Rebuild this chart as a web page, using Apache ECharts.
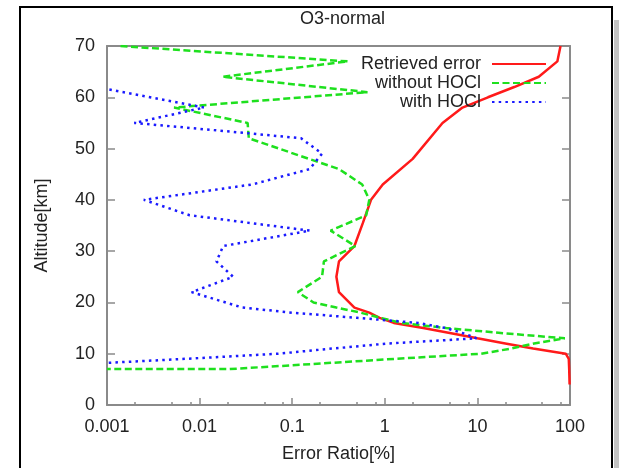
<!DOCTYPE html>
<html><head><meta charset="utf-8">
<script src="https://cdn.jsdelivr.net/npm/echarts@6/dist/echarts.min.js"></script>
<style>html,body{margin:0;padding:0;background:#fff}#c{width:619px;height:468px}</style>
</head><body><div id="c"></div>
<script>
// ---- data ----
const titleText = 'O3-normal';
const xAxisName = 'Error Ratio[%]';
const yAxisName = 'Altitude[km]';
const seriesNames = ['Retrieved error', 'without HOCl', 'with HOCl'];

const retrievedAlt = [70, 67, 64, 62, 60, 58, 55, 48, 43, 40, 35.5, 31, 28, 25, 22, 19, 18, 17, 16, 15, 14, 13, 12, 11, 10, 9, 7, 4];
const retrievedErr = [79, 73, 46, 25, 13, 6.9, 4.2, 2.0, 0.95, 0.71, 0.58, 0.47, 0.32, 0.30, 0.32, 0.47, 0.68, 0.88, 1.25, 2.6, 5.2, 10, 20, 40, 90, 97, 98, 99];

const withoutAlt = [70, 67, 64, 61, 58, 55, 52, 46, 43, 40, 37, 34, 31, 28, 25, 22, 20, 19, 18, 17, 16, 15, 14, 13, 12, 11, 10, 9, 8, 7, 7];
const withoutErr = [0.0014, 0.40, 0.0177, 0.65, 0.0053, 0.033, 0.034, 0.32, 0.57, 0.68, 0.63, 0.26, 0.48, 0.22, 0.21, 0.115, 0.17, 0.3, 0.55, 0.9, 1.5, 4.6, 19, 88, 41, 23, 11, 1.3, 0.17, 0.021, 0.001];

const withAlt = [61.5, 58, 55, 53, 52, 49, 46, 43, 40, 37, 34, 31, 28, 25, 22, 19, 18, 17, 16, 15, 14, 13, 12, 11, 10, 9, 8];
const withErr = [0.00106, 0.0112, 0.00197, 0.033, 0.125, 0.21, 0.154, 0.037, 0.0025, 0.0078, 0.155, 0.018, 0.0152, 0.023, 0.0082, 0.029, 0.1, 0.5, 2.3, 4.6, 7, 9.8, 1.1, 0.27, 0.07, 0.007, 0.0006];

const xMin = 0.001, xMax = 100;
const yMin = 0, yMax = 70, yStep = 10;
const xMinorTicks = [0.002, 0.005, 0.008, 0.02, 0.05, 0.08, 0.2, 0.5, 0.8, 2, 5, 8, 20, 50, 80];

// ---- chart ----
const FONT = 'Liberation Sans';
const TXT = '#222';
const AX = '#8a8a8a';
const pair = (vals, alts) => vals.map((v, i) => [v, alts[i]]);

const chart = echarts.init(document.getElementById('c'), null, {renderer: 'canvas'});
chart.setOption({
  backgroundColor: '#fff',
  animation: false,
  title: {
    text: titleText, left: 295, top: 5,
    textStyle: {fontFamily: FONT, fontSize: 18, fontWeight: 'normal', color: TXT}
  },
  legend: {
    orient: 'vertical', right: 72, top: 55, padding: 0, itemGap: 1,
    align: 'right', itemWidth: 54, itemHeight: 14,
    itemStyle: {opacity: 0, color: 'rgba(0,0,0,0)', borderWidth: 0},
    textStyle: {fontFamily: FONT, fontSize: 18, color: TXT, padding: [0, 6, 0, 0]},
    data: seriesNames
  },
  grid: {left: 107, right: 49, top: 46, bottom: 62, containLabel: false},
  xAxis: [
    {
      type: 'log', min: xMin, max: xMax, position: 'bottom',
      name: xAxisName, nameLocation: 'middle', nameGap: 40,
      nameTextStyle: {fontFamily: FONT, fontSize: 18, color: TXT},
      axisLine: {onZero: false, lineStyle: {color: AX, width: 2}},
      axisTick: {inside: true, length: 7, lineStyle: {color: AX, width: 1.5}},
      axisLabel: {fontFamily: FONT, fontSize: 18, color: TXT, margin: 13},
      splitLine: {show: false}
    },
    {
      type: 'log', min: xMin, max: xMax, position: 'top',
      axisLine: {onZero: false, lineStyle: {color: AX, width: 2}},
      axisTick: {show: false}, axisLabel: {show: false}, splitLine: {show: false}
    },
    {
      type: 'log', min: xMin, max: xMax, position: 'top', offset: -360,
      axisLine: {show: false, onZero: false},
      axisTick: {inside: false, length: 4, customValues: xMinorTicks, lineStyle: {color: AX, width: 1.5}},
      axisLabel: {show: false}, splitLine: {show: false}
    }
  ],
  yAxis: [
    {
      type: 'value', min: yMin, max: yMax, interval: yStep, position: 'left',
      name: yAxisName, nameLocation: 'middle', nameGap: 56,
      nameTextStyle: {fontFamily: FONT, fontSize: 18, color: TXT},
      axisLine: {show: true, onZero: false, lineStyle: {color: AX, width: 2}},
      axisTick: {show: true, inside: true, length: 8, lineStyle: {color: AX, width: 1.5}},
      axisLabel: {fontFamily: FONT, fontSize: 18, color: TXT, margin: 12},
      splitLine: {show: false}
    },
    {
      type: 'value', min: yMin, max: yMax, interval: yStep, position: 'right',
      axisLine: {show: true, onZero: false, lineStyle: {color: AX, width: 2}},
      axisTick: {show: true, inside: true, length: 8, lineStyle: {color: AX, width: 1.5}},
      axisLabel: {show: false}, splitLine: {show: false}
    }
  ],
  series: [
    {
      name: seriesNames[0], type: 'line', data: pair(retrievedErr, retrievedAlt),
      symbol: 'none', clip: true, color: '#ff1a1a',
      lineStyle: {color: '#ff1a1a', width: 2.5, type: 'solid'}
    },
    {
      name: seriesNames[1], type: 'line', data: pair(withoutErr, withoutAlt),
      symbol: 'none', clip: true, color: '#1ee01e',
      lineStyle: {color: '#1ee01e', width: 2.5, type: [7, 3.5]}
    },
    {
      name: seriesNames[2], type: 'line', data: pair(withErr, withAlt),
      symbol: 'none', clip: true, color: '#1a1aff',
      lineStyle: {color: '#1a1aff', width: 2.5, type: [2.5, 4.2]}
    }
  ],
  graphic: [
    {type: 'rect', shape: {x: 20, y: 7, width: 592, height: 480}, style: {fill: 'none', stroke: '#000', lineWidth: 2}, silent: true, z: 100},
    {type: 'rect', shape: {x: 614, y: 20, width: 5, height: 460}, style: {fill: '#c4c4c4'}, silent: true, z: 100}
  ]
});
</script>
</body></html>
